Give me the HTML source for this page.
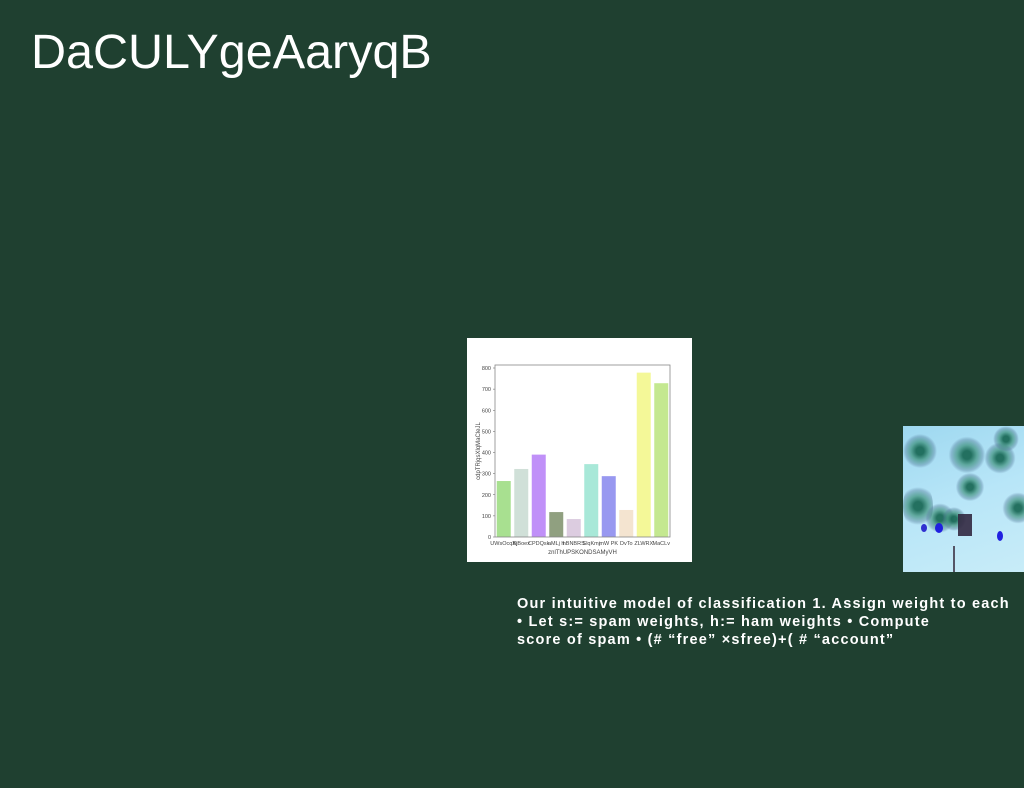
<!DOCTYPE html>
<html><head><meta charset="utf-8"><style>
body{margin:0;width:1024px;height:788px;background:#1f4030;position:relative;overflow:hidden;font-family:"Liberation Sans",sans-serif}
#title{position:absolute;left:31px;top:24px;color:#fff;font-size:48.5px;margin:0;font-weight:normal}
#chart{position:absolute;left:467px;top:338px;width:225px;height:224px;background:#fff}
#photo{position:absolute;left:903px;top:426px;width:121px;height:146px;background:linear-gradient(160deg,#9ed8f0,#b8e6f8 50%,#c8ecf8);overflow:hidden}
.tree{position:absolute;border-radius:50%;background:radial-gradient(circle,rgba(20,100,80,.9) 15%,rgba(40,130,100,.6) 35%,rgba(70,110,140,.35) 55%,transparent 65%)}
#text{position:absolute;left:517px;top:595px;color:#fff;font-weight:900;font-size:14.5px;line-height:18px;width:520px;letter-spacing:1.2px;white-space:nowrap}
</style></head><body>
<h1 id="title">DaCULYgeAaryqB</h1>
<div id="chart"><svg id="svg" width="225" height="224"></svg></div>
<div id="photo">
<div class="tree" style="left:0;top:5px;width:34px;height:40px"></div>
<div class="tree" style="left:45px;top:8px;width:38px;height:42px"></div>
<div class="tree" style="left:80px;top:15px;width:34px;height:34px"></div>
<div class="tree" style="left:52px;top:45px;width:30px;height:32px"></div>
<div class="tree" style="left:98px;top:65px;width:34px;height:34px"></div>
<div class="tree" style="left:0;top:55px;width:30px;height:50px"></div>
<div class="tree" style="left:22px;top:75px;width:30px;height:34px"></div>
<div class="tree" style="left:38px;top:80px;width:26px;height:26px"></div>
<div class="tree" style="left:88px;top:0;width:30px;height:26px"></div>
<div style="position:absolute;left:55px;top:88px;width:14px;height:22px;background:rgba(50,40,64,.9)"></div>
<div style="position:absolute;left:32px;top:97px;width:8px;height:10px;border-radius:50%;background:#2020e0"></div>
<div style="position:absolute;left:18px;top:98px;width:6px;height:8px;border-radius:50%;background:#3030d0"></div>
<div style="position:absolute;left:94px;top:105px;width:6px;height:10px;border-radius:50%;background:#2020e0"></div>
<div style="position:absolute;left:50px;top:120px;width:2px;height:26px;background:#556"></div>
</div>
<div id="text">Our intuitive model of classification 1. Assign weight to each<br>• Let s:= spam weights, h:= ham weights • Compute<br>score of spam • (# “free” ×sfree)+( # “account”</div>
<script>
const categories=["UWsOcqXj","BjBoex","CPDQsk","aMLj h","hBNBRS","SlqKmj","mW PK","DvTo","ZLWRX","MaCLv"];
const values=[265,322,390,118,85,345,288,128,778,728];
const colors=["#a8e090","#d0e0d8","#c090f8","#90a080","#dccce0","#a8e8d8","#9898f0","#f4e4d0","#f4f898","#c4e890"];
const yTicks=[0,100,200,300,400,500,600,700,800];
const svg=document.getElementById('svg');const NS='http://www.w3.org/2000/svg';
const L=28,R=203,T=27,B=199,yMax=800,yTop=30;
const y=v=>B-(v/yMax)*(B-yTop);
const band=(R-L)/categories.length;
const x=i=>L+band*i+band*0.1;
function mk(t,a,txt){const e=document.createElementNS(NS,t);for(const k in a)e.setAttribute(k,a[k]);if(txt!==undefined)e.textContent=txt;svg.appendChild(e);return e;}
values.forEach((v,i)=>{const r=mk('rect',{x:x(i),y:y(v),width:band*0.8,height:B-y(v),fill:colors[i]});

});
yTicks.forEach(t=>{mk('line',{x1:L-2,x2:L,y1:y(t),y2:y(t),stroke:'#555','stroke-width':0.5});
const tx=mk('text',{x:L-4,y:y(t)+2,'font-size':5.5,'text-anchor':'end',fill:'#444'},t);

});
categories.forEach((c,i)=>{const tx=mk('text',{x:x(i)+band*0.4,y:B+8,'font-size':5.5,'text-anchor':'middle',fill:'#444'},c);

});
const fr=mk('rect',{x:L,y:T,width:R-L,height:B-T,fill:'none',stroke:'#888','stroke-width':0.8});


const xt=mk('text',{x:(L+R)/2,y:B+17,'font-size':6,'text-anchor':'middle',fill:'#444'},'znlThUPSKONDSAMyVH');


const yt=mk('text',{x:0,y:0,'font-size':6,'text-anchor':'middle',fill:'#444',transform:`translate(13,${(T+B)/2}) rotate(-90)`},'cdpTRjqsXlqMaCleJL');


</script>
</body></html>
